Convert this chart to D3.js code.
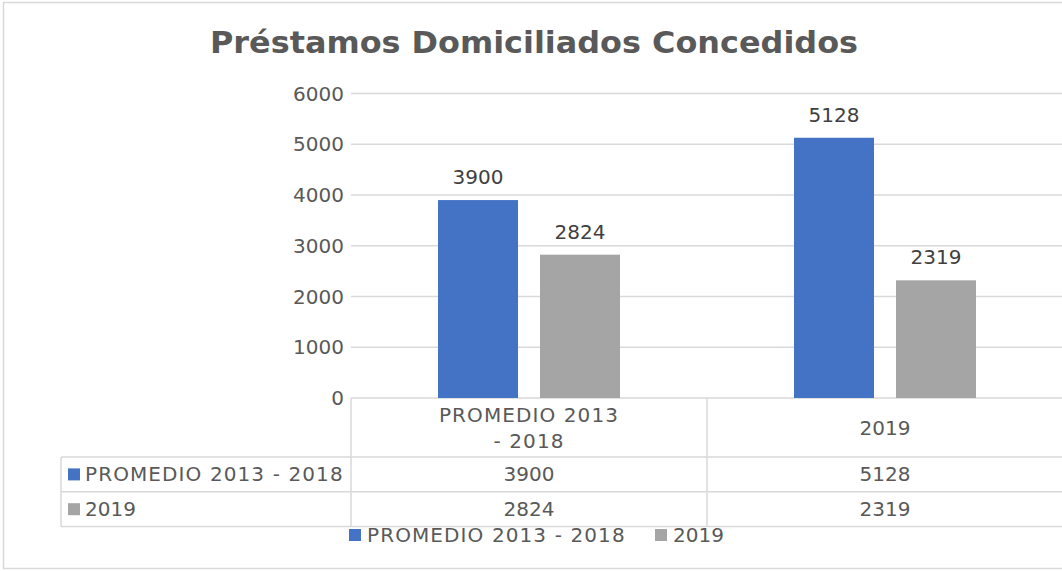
<!DOCTYPE html>
<html>
<head>
<meta charset="utf-8">
<script src="https://cdn.jsdelivr.net/npm/d3@7"></script>
<style>
  body { margin: 0; background: #fff; }
  svg { display: block; font-family: "DejaVu Sans", Verdana, sans-serif; }
</style>
</head>
<body>
<div id="chart"></div>
<script>
// values
const title = "Préstamos Domiciliados Concedidos";
const categories = ["PROMEDIO 2013 - 2018", "2019"];
const seriesNames = ["PROMEDIO 2013 - 2018", "2019"];
const promedioValues = [3900, 5128];
const values2019 = [2824, 2319];
const yTicks = [0, 1000, 2000, 3000, 4000, 5000, 6000];

const colors = ["#4472c4", "#a5a5a5"];
const seriesValues = [promedioValues, values2019];

const width = 1062,
  height = 571;

// Verdana caps are wider than DejaVu's, so stretch the letter labels a bit
const spacing = t => (/[A-Z]/.test(t) ? 1.1 : 0);

const svg = d3
  .select("#chart")
  .append("svg")
  .attr("width", width)
  .attr("height", height)
  .attr("viewBox", `0 0 ${width} ${height}`);

// outer chart frame (right side runs off the picture)
svg
  .append("rect")
  .attr("x", 3.5)
  .attr("y", 2.5)
  .attr("width", width + 10)
  .attr("height", 566)
  .attr("fill", "#fff")
  .attr("stroke", "#d9d9d9")
  .attr("stroke-width", 1.5);

// title
svg
  .append("text")
  .attr("x", 534)
  .attr("y", 53)
  .attr("text-anchor", "middle")
  .attr("font-size", 30)
  .attr("font-weight", "bold")
  .attr("fill", "#595959")
  .attr("textLength", 648)
  .attr("lengthAdjust", "spacingAndGlyphs")
  .text(title);

// scales
const plotLeft = 351,
  plotRight = 1063;
const x0 = d3
  .scaleBand()
  .domain(categories)
  .range([plotLeft, plotRight])
  .padding(0);

const x1 = d3
  .scaleBand()
  .domain(seriesNames)
  .range([0, x0.bandwidth()])
  .paddingInner(0.2157)
  .paddingOuter(0.853);

const y = d3.scaleLinear().domain([0, 6000]).range([398, 93.5]);

// gridlines
svg
  .append("g")
  .selectAll("line")
  .data(yTicks)
  .enter()
  .append("line")
  .attr("x1", plotLeft)
  .attr("x2", width)
  .attr("y1", d => y(d))
  .attr("y2", d => y(d))
  .attr("stroke", "#d9d9d9")
  .attr("stroke-width", 1.5);

// y axis labels
svg
  .append("g")
  .selectAll("text")
  .data(yTicks)
  .enter()
  .append("text")
  .attr("x", 344)
  .attr("y", d => y(d) + 7)
  .attr("text-anchor", "end")
  .attr("font-size", 20)
  .attr("fill", "#595959")
  .text(d => d);

// bars
const groups = svg
  .append("g")
  .selectAll("g")
  .data(categories)
  .enter()
  .append("g")
  .attr("transform", d => `translate(${x0(d)},0)`);

groups
  .selectAll("rect")
  .data((d, i) => seriesNames.map((s, j) => ({ s, j, v: seriesValues[j][i] })))
  .enter()
  .append("rect")
  .attr("x", d => x1(d.s))
  .attr("width", x1.bandwidth())
  .attr("y", d => y(d.v))
  .attr("height", d => y(0) - y(d.v))
  .attr("fill", d => colors[d.j]);

// data labels
groups
  .selectAll("text.label")
  .data((d, i) => seriesNames.map((s, j) => ({ s, j, v: seriesValues[j][i] })))
  .enter()
  .append("text")
  .attr("class", "label")
  .attr("x", d => x1(d.s) + x1.bandwidth() / 2)
  .attr("y", d => y(d.v) - 16)
  .attr("text-anchor", "middle")
  .attr("font-size", 20)
  .attr("fill", "#404040")
  .text(d => d.v);

// data table
const tableLeft = 61;
const headerBottom = 457,
  rowH = 34.8;
const rowYs = seriesNames.map((s, i) => headerBottom + i * rowH);
const tableBottom = headerBottom + seriesNames.length * rowH;

const tbl = svg.append("g").attr("stroke", "#d9d9d9").attr("stroke-width", 1.5);
tbl
  .selectAll("line.h")
  .data(rowYs.concat([tableBottom]))
  .enter()
  .append("line")
  .attr("x1", tableLeft)
  .attr("x2", width)
  .attr("y1", d => d)
  .attr("y2", d => d);
tbl
  .append("line")
  .attr("x1", tableLeft)
  .attr("x2", tableLeft)
  .attr("y1", headerBottom)
  .attr("y2", tableBottom);
tbl
  .selectAll("line.v")
  .data(categories)
  .enter()
  .append("line")
  .attr("x1", d => x0(d))
  .attr("x2", d => x0(d))
  .attr("y1", y(0))
  .attr("y2", tableBottom);

// header cells, wrapped like the spreadsheet does
function wrapWords(text, maxChars) {
  const words = text.split(" ");
  const lines = [];
  let cur = "";
  words.forEach(w => {
    const next = cur ? cur + " " + w : w;
    if (next.length > maxChars && cur) {
      lines.push(cur);
      cur = w;
    } else cur = next;
  });
  lines.push(cur);
  return lines;
}

categories.forEach(c => {
  const lines = wrapWords(c, 13);
  const cy = (y(0) + headerBottom) / 2;
  const t = svg
    .append("text")
    .attr("text-anchor", "middle")
    .attr("font-size", 20)
    .attr("letter-spacing", spacing(c))
    .attr("fill", "#595959");
  lines.forEach((ln, k) => {
    t.append("tspan")
      .attr("x", x0(c) + x0.bandwidth() / 2)
      .attr("y", cy + 7 + (k - (lines.length - 1) / 2) * 26)
      .text(ln);
  });
});

// table rows
seriesNames.forEach((s, j) => {
  const ry = rowYs[j] + rowH / 2;
  svg
    .append("rect")
    .attr("x", 68)
    .attr("y", ry - 6)
    .attr("width", 12)
    .attr("height", 12)
    .attr("fill", colors[j]);
  svg
    .append("text")
    .attr("x", 85)
    .attr("y", ry + 7)
    .attr("font-size", 20)
    .attr("letter-spacing", spacing(s))
    .attr("fill", "#595959")
    .text(s);
  categories.forEach((c, i) => {
    svg
      .append("text")
      .attr("x", x0(c) + x0.bandwidth() / 2)
      .attr("y", ry + 7)
      .attr("text-anchor", "middle")
      .attr("font-size", 20)
      .attr("fill", "#595959")
      .text(seriesValues[j][i]);
  });
});

// legend
const legendX = [349, 655];
seriesNames.forEach((s, j) => {
  svg
    .append("rect")
    .attr("x", legendX[j])
    .attr("y", 529)
    .attr("width", 12)
    .attr("height", 12)
    .attr("fill", colors[j]);
  svg
    .append("text")
    .attr("x", legendX[j] + 18)
    .attr("y", 542)
    .attr("font-size", 20)
    .attr("letter-spacing", spacing(s))
    .attr("fill", "#595959")
    .text(s);
});
</script>
</body>
</html>
